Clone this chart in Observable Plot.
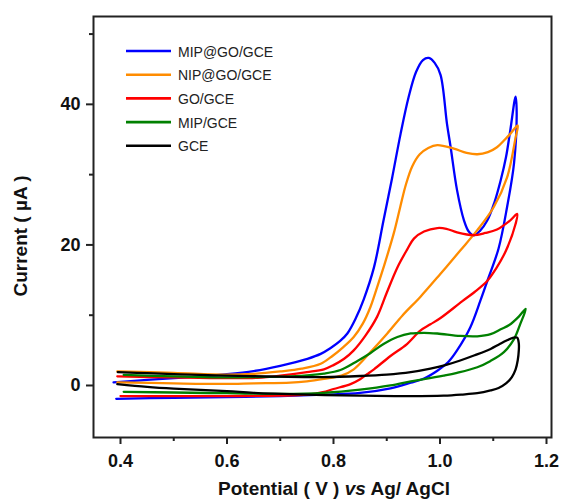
<!DOCTYPE html>
<html><head><meta charset="utf-8">
<script src="https://cdn.jsdelivr.net/npm/d3@7"></script>
<script src="https://cdn.jsdelivr.net/npm/@observablehq/plot@0.6"></script>
<style>body{margin:0;background:#fff} #chart{width:561px;height:501px}</style>
</head><body><div id="chart"></div>
<script>
// Series names and colours
const seriesNames = ["MIP@GO/GCE", "NIP@GO/GCE", "GO/GCE", "MIP/GCE", "GCE"];
const seriesColors = ["#0000ff", "#ff8c00", "#ff0000", "#008000", "#000000"];

// Axis ticks
const xTicks = [0.4, 0.6, 0.8, 1.0, 1.2];
const xMinor = [0.5, 0.7, 0.9, 1.1];
const yTicks = [0, 20, 40];
const yMinor = [10, 30, 50];

// Cyclic voltammograms: [potential V, current µA], in scan order (forward then reverse)
const mipGo = [[0.387,0.45],[0.45,0.8],[0.531,1.19],[0.60,1.6],[0.65,2.05],[0.70,2.8],[0.751,3.8],[0.776,4.5],[0.794,5.3],[0.812,6.3],[0.826,7.4],[0.842,9.6],[0.857,12.3],[0.876,16.8],[0.894,23.5],[0.910,29.5],[0.926,35.8],[0.941,41.0],[0.955,44.6],[0.968,46.3],[0.979,46.6],[0.990,45.9],[1.001,44.2],[1.013,37.3],[1.020,33.9],[1.032,27.8],[1.045,23.5],[1.054,21.9],[1.063,21.35],[1.075,22.0],[1.089,23.5],[1.102,26.0],[1.114,29.2],[1.124,32.5],[1.132,36.3],[1.142,41.1],[1.144,38.7],[1.139,31.6],[1.126,25.4],[1.110,19.5],[1.089,14.9],[1.076,12.1],[1.057,8.3],[1.032,5.0],[1.015,3.3],[0.995,2.1],[0.970,1.0],[0.945,0.4],[0.907,-0.4],[0.85,-1.05],[0.782,-1.3],[0.70,-1.5],[0.60,-1.65],[0.50,-1.75],[0.392,-1.9]];
const nipGo = [[0.394,2.0],[0.50,1.8],[0.594,1.55],[0.65,1.65],[0.70,2.0],[0.74,2.4],[0.776,3.1],[0.798,4.2],[0.819,5.5],[0.838,6.9],[0.855,8.8],[0.869,11.1],[0.882,14.0],[0.894,16.8],[0.913,21.6],[0.925,25.3],[0.936,28.6],[0.948,31.2],[0.962,32.9],[0.978,33.8],[0.995,34.2],[1.026,33.7],[1.050,33.1],[1.070,32.9],[1.090,33.2],[1.107,33.9],[1.122,35.0],[1.132,35.8],[1.146,37.0],[1.142,35.3],[1.126,29.6],[1.101,25.4],[1.070,22.1],[1.038,19.2],[1.001,15.9],[0.963,12.6],[0.930,10.0],[0.901,7.4],[0.870,4.8],[0.838,2.3],[0.815,1.4],[0.782,0.95],[0.75,0.6],[0.719,0.4],[0.65,0.3],[0.594,0.22],[0.50,0.3],[0.394,0.45]];
const goGce = [[0.394,1.3],[0.50,1.15],[0.60,1.05],[0.657,1.1],[0.70,1.4],[0.75,1.9],[0.782,2.3],[0.80,2.9],[0.82,3.8],[0.838,5.0],[0.86,7.1],[0.882,9.8],[0.90,13.2],[0.920,16.8],[0.938,19.3],[0.951,20.9],[0.970,21.9],[0.995,22.4],[1.012,22.3],[1.032,21.8],[1.063,21.4],[1.085,21.7],[1.107,22.2],[1.132,23.5],[1.145,24.4],[1.142,23.0],[1.124,19.2],[1.105,16.6],[1.089,14.9],[1.065,13.3],[1.042,12.0],[1.001,9.6],[0.982,8.7],[0.963,7.8],[0.938,5.9],[0.907,4.2],[0.876,2.3],[0.863,1.6],[0.85,0.9],[0.832,0.2],[0.80,-0.5],[0.78,-0.95],[0.751,-1.3],[0.70,-1.45],[0.60,-1.5],[0.50,-1.5],[0.40,-1.5]];
const mipGce = [[0.406,1.5],[0.50,1.3],[0.60,1.15],[0.657,1.2],[0.72,1.3],[0.782,1.7],[0.813,2.2],[0.845,3.5],[0.869,4.6],[0.894,5.9],[0.920,6.9],[0.945,7.4],[0.970,7.5],[0.995,7.4],[1.038,7.05],[1.070,7.0],[1.095,7.3],[1.114,8.0],[1.130,8.6],[1.148,9.8],[1.161,10.9],[1.151,8.8],[1.139,6.6],[1.120,4.75],[1.095,3.5],[1.070,2.6],[1.032,1.8],[1.007,1.4],[0.970,0.9],[0.945,0.6],[0.907,0.0],[0.85,-0.6],[0.782,-1.05],[0.70,-1.2],[0.60,-1.1],[0.50,-1.0],[0.406,-0.9]];
const gce = [[0.394,0.2],[0.45,-0.2],[0.50,-0.45],[0.60,-0.8],[0.65,-1.05],[0.75,-1.3],[0.85,-1.45],[0.945,-1.52],[1.007,-1.45],[1.040,-1.3],[1.070,-1.1],[1.095,-0.7],[1.110,-0.35],[1.124,0.3],[1.135,1.2],[1.142,2.3],[1.146,3.6],[1.148,5.0],[1.148,6.0],[1.145,6.8],[1.138,6.8],[1.125,6.4],[1.110,5.8],[1.095,5.2],[1.065,4.3],[1.038,3.56],[1.010,2.9],[0.982,2.4],[0.945,1.9],[0.90,1.55],[0.85,1.35],[0.78,1.2],[0.70,1.25],[0.644,1.33],[0.55,1.5],[0.45,1.75],[0.395,1.9]];

const seriesData = [mipGo, nipGo, goGce, mipGce, gce];
const rows = (name, pts) => pts.map(([x, y]) => ({series: name, x, y}));

const FONT = "'Liberation Sans', Arial, Helvetica, sans-serif";

const plot = Plot.plot({
  width: 561, height: 501,
  marginLeft: 93, marginRight: 10, marginTop: 16, marginBottom: 64,
  style: {fontFamily: FONT, background: "#fff", color: "#111"},
  x: {domain: [0.3493, 1.2094], label: null},
  y: {domain: [-7.4, 52.5], label: null},
  color: {domain: seriesNames, range: seriesColors},
  marks: [
    ...seriesData.map((pts, i) => Plot.line(rows(seriesNames[i], pts), {
      x: "x", y: "y", stroke: "series", strokeWidth: 2.3, curve: "catmull-rom"
    })),
    Plot.frame({stroke: "#222", strokeWidth: 2}),
    Plot.axisX(xTicks, {tickSize: 7, tickPadding: 10, strokeWidth: 2, stroke: "#222",
      tickFormat: d => d.toFixed(1), fontSize: 18, fontWeight: "bold", label: null}),
    Plot.axisX(xMinor, {tickSize: 4, strokeWidth: 2, stroke: "#222", fill: "none", label: null}),
    Plot.axisY(yTicks, {tickSize: 7, tickPadding: 6, strokeWidth: 2, stroke: "#222",
      fontSize: 18, fontWeight: "bold", label: null}),
    Plot.axisY(yMinor, {tickSize: 4, strokeWidth: 2, stroke: "#222", fill: "none", label: null})
  ]
});

document.getElementById("chart").appendChild(plot);
const svg = d3.select(plot);

// Axis titles
const xt = svg.append("text")
  .attr("x", 334).attr("y", 495).attr("text-anchor", "middle")
  .style("font-family", FONT).style("font-size", "19px").style("font-weight", "bold").attr("fill", "#111");
xt.append("tspan").text("Potential ( V ) ");
xt.append("tspan").style("font-style", "italic").text("vs");
xt.append("tspan").text(" Ag/ AgCl");

svg.append("text")
  .attr("transform", "translate(27,236) rotate(-90)").attr("text-anchor", "middle")
  .style("font-family", FONT).style("font-size", "19px").style("font-weight", "bold").attr("fill", "#111")
  .text("Current ( \u00b5A )");

// Legend
const lg = svg.append("g").attr("text-anchor", "start");
seriesNames.forEach((name, i) => {
  const y = 51 + i * 23.7;
  lg.append("line").attr("x1", 126).attr("x2", 171).attr("y1", y).attr("y2", y)
    .attr("stroke", seriesColors[i]).attr("stroke-width", 2.6);
  lg.append("text").attr("x", 178).attr("y", y + 5.5).attr("text-anchor", "start")
    .style("font-family", FONT).style("font-size", "14px").attr("fill", "#222").text(name);
});
</script>
</body></html>
